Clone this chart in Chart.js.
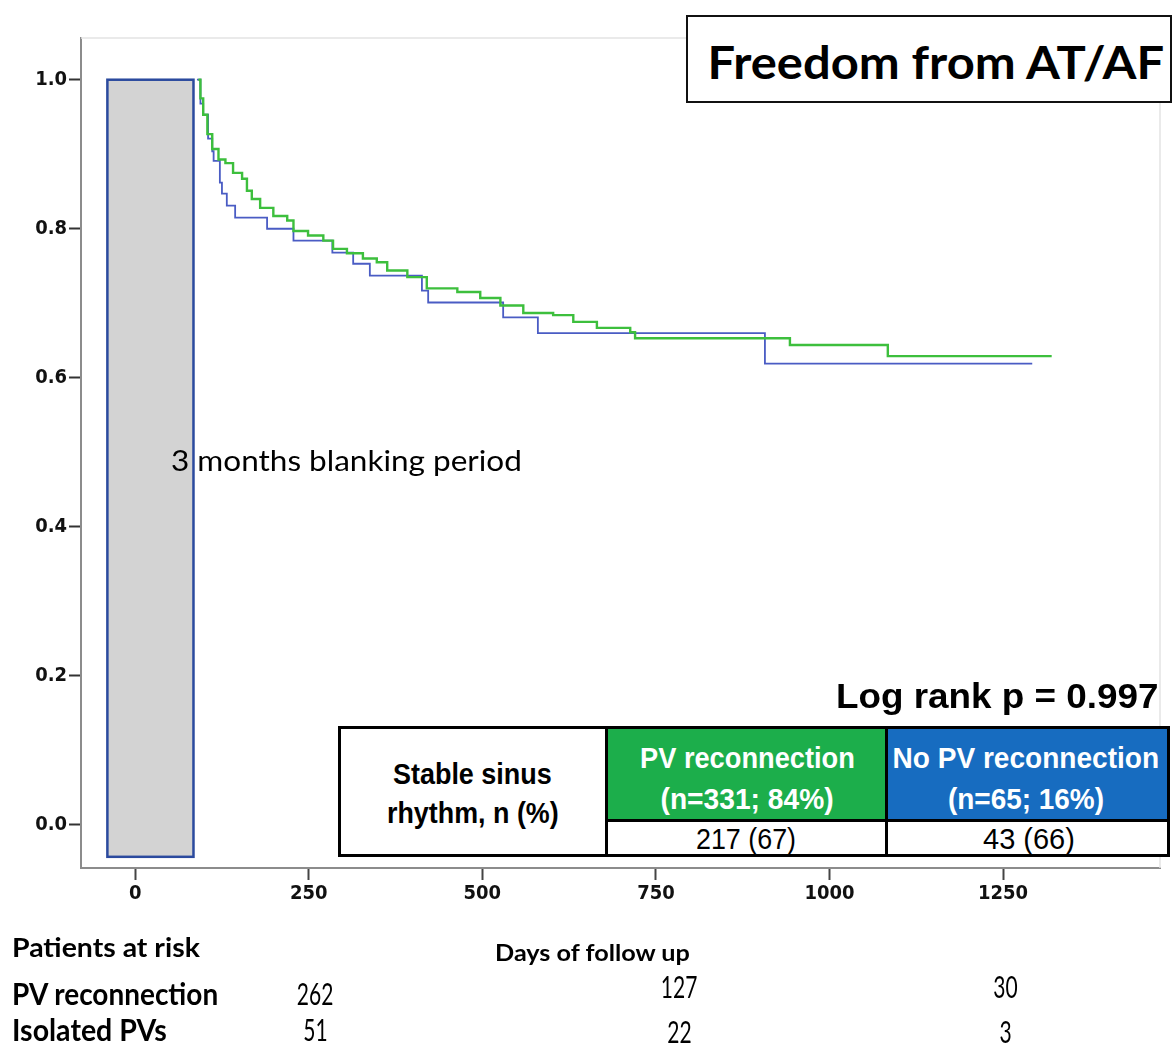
<!DOCTYPE html>
<html>
<head>
<meta charset="utf-8">
<script src="https://cdn.jsdelivr.net/npm/chart.js@4.4.1/dist/chart.umd.min.js"></script>
<style>
  html, body { margin: 0; padding: 0; background: #fff; }
  #wrap { position: relative; width: 1176px; height: 1043px; overflow: hidden; }
  #km { position: absolute; left: 0; top: 0; }
  #notes { position: absolute; left: 0; top: 0; width: 1176px; height: 1043px; }
  .lbl { position: absolute; white-space: nowrap; line-height: 1; }
  .box { position: absolute; box-sizing: border-box; }
</style>
</head>
<body>
<div id="wrap">
  <canvas id="km" width="1176" height="1043"></canvas>
  <div id="notes"></div>
</div>
<script>
// Kaplan-Meier steps: day of each drop and the survival after it
const pvDays = [91, 94, 98, 104, 111, 120, 130, 141, 154, 161, 168, 180, 199, 219, 228, 249, 271, 285, 305, 328, 348, 363, 392, 420, 464, 497, 526, 559, 602, 631, 665, 713, 720, 943, 1084, 1320];
const pvSurv = [1.0, 0.975, 0.953, 0.927, 0.907, 0.893, 0.888, 0.875, 0.867, 0.851, 0.84, 0.828, 0.817, 0.811, 0.797, 0.791, 0.784, 0.773, 0.767, 0.76, 0.755, 0.744, 0.735, 0.72, 0.715, 0.707, 0.697, 0.687, 0.684, 0.675, 0.667, 0.661, 0.653, 0.644, 0.629, 0.629];

const isoDays = [89, 94, 98, 105, 111, 113, 122, 125, 132, 144, 190, 228, 284, 314, 338, 413, 422, 530, 580, 907, 1292];
const isoSurv = [1.0, 0.968, 0.953, 0.921, 0.904, 0.891, 0.862, 0.847, 0.831, 0.815, 0.8, 0.784, 0.768, 0.753, 0.737, 0.717, 0.701, 0.681, 0.66, 0.619, 0.619];

// blanking period box (days / survival units, as drawn in the figure)
const blankDays = [-40, 84];
const blankSurv = [-0.043, 1.0];

const xTicks = [0, 250, 500, 750, 1000, 1250];
const yTicks = [0, 0.2, 0.4, 0.6, 0.8, 1.0];

const groups = ["PV reconnection", "No PV reconnection"];
const groupN = ["(n=331; 84%)", "(n=65; 16%)"];
const stableSR = ["217 (67)", "43 (66)"];

const atRiskRows = ["PV reconnection", "Isolated PVs"];
const atRiskPV = [262, 127, 30];
const atRiskIso = [51, 22, 3];

const GREEN = "#3dbf3d";
const BLUE = "#4a5cc4";
const tickFont = { family: "'DejaVu Sans Condensed', 'DejaVu Sans'", size: 20, weight: "bold" };

const toPoints = (days, surv) => days.map((d, i) => ({ x: d, y: surv[i] }));

// grey blanking rectangle + faint top/right frame lines
const blankingBox = {
  id: "blankingBox",
  beforeDatasetsDraw(chart) {
    const { ctx, chartArea, scales } = chart;
    ctx.save();
    ctx.strokeStyle = "#e4e4e4";
    ctx.lineWidth = 1.5;
    ctx.beginPath();
    ctx.moveTo(chartArea.left, chartArea.top);
    ctx.lineTo(chartArea.right, chartArea.top);
    ctx.lineTo(chartArea.right, chartArea.bottom);
    ctx.stroke();

    const l = scales.x.getPixelForValue(blankDays[0]);
    const r = scales.x.getPixelForValue(blankDays[1]);
    const t = scales.y.getPixelForValue(blankSurv[1]);
    const b = scales.y.getPixelForValue(blankSurv[0]);
    ctx.fillStyle = "#d3d3d3";
    ctx.fillRect(l, t, r - l, b - t);
    ctx.strokeStyle = "#2b4a9e";
    ctx.lineWidth = 2.5;
    ctx.strokeRect(l, t, r - l, b - t);
    ctx.restore();
  },
};

new Chart(document.getElementById("km"), {
  type: "line",
  data: {
    datasets: [
      {
        label: groups[0],
        data: toPoints(pvDays, pvSurv),
        borderColor: GREEN,
        borderWidth: 2.4,
        stepped: true,
        pointRadius: 0,
        fill: false,
      },
      {
        label: groups[1],
        data: toPoints(isoDays, isoSurv),
        borderColor: BLUE,
        borderWidth: 1.8,
        stepped: true,
        pointRadius: 0,
        fill: false,
      },
    ],
  },
  options: {
    responsive: false,
    animation: false,
    layout: { padding: { left: 0, top: 38, right: 16, bottom: 0 } },
    plugins: { legend: { display: false }, tooltip: { enabled: false } },
    scales: {
      x: {
        type: "linear",
        min: -78,
        max: 1476,
        afterFit(s) { s.height = 175; },
        afterBuildTicks(s) { s.ticks = xTicks.map((v) => ({ value: v })); },
        grid: { drawOnChartArea: false, tickLength: 12, tickColor: "#444", tickWidth: 2 },
        border: { color: "#8c8c8c", width: 2 },
        ticks: { font: tickFont, color: "#111", padding: 2, maxRotation: 0, callback: (v) => String(v) },
      },
      y: {
        min: -0.058,
        max: 1.056,
        afterFit(s) { s.width = 81; },
        afterBuildTicks(s) { s.ticks = yTicks.map((v) => ({ value: v })); },
        grid: { drawOnChartArea: false, tickLength: 12, tickColor: "#333", tickWidth: 2 },
        border: { color: "#8c8c8c", width: 2 },
        ticks: { font: { ...tickFont, size: 20 }, color: "#111", padding: 2, callback: (v) => v.toFixed(1) },
      },
    },
  },
  plugins: [blankingBox],
});

// ---- text and table drawn as html over the canvas ----
const notes = document.getElementById("notes");
const LATO = "Lato, 'Open Sans', sans-serif";
const ARIAL = "'Liberation Sans', Arial, sans-serif";

function box(l, t, w, h, css) {
  const el = document.createElement("div");
  el.className = "box";
  Object.assign(el.style, { left: l + "px", top: t + "px", width: w + "px", height: h + "px" }, css);
  notes.appendChild(el);
  return el;
}

// place a text by its baseline; w = width it takes in the figure (squeezed to fit)
function label(text, o) {
  const el = document.createElement("div");
  el.className = "lbl";
  el.textContent = text;
  el.style.font = `${o.weight || 400} ${o.size}px ${o.font}`;
  el.style.color = o.color || "#000";
  notes.appendChild(el);
  const w = el.offsetWidth;
  const k = o.w ? o.w / w : o.k || 1;
  const asc = o.font === LATO ? 0.887 : 0.8465;
  el.style.top = o.base - asc * o.size + "px";
  el.style.left = (o.cx != null ? o.cx - w / 2 : o.x) + "px";
  el.style.transformOrigin = o.cx != null ? "center" : "left";
  el.style.transform = `scaleX(${k})`;
}

// title
box(686, 15, 486, 88, { border: "2px solid #111", background: "#fff" });
label("Freedom from AT/AF", { font: LATO, weight: 700, size: 46, cx: 936, base: 75, w: 457 });

label("3 months blanking period", { font: LATO, size: 29, x: 171, base: 468, w: 351 });
label("Log rank p = 0.997", { font: ARIAL, weight: 700, size: 35, x: 836, base: 706, w: 322 });

// stable sinus rhythm table
box(338, 726, 832, 131, { border: "3px solid #000", background: "#fff" });
box(605, 726, 283, 96, { background: "#1cae4b", border: "3px solid #000" });
box(885, 726, 285, 96, { background: "#176cc0", border: "3px solid #000" });
box(605, 819, 283, 38, { border: "3px solid #000" });
box(885, 819, 285, 38, { border: "3px solid #000" });

label("Stable sinus", { font: ARIAL, weight: 700, size: 30, cx: 472, base: 782, w: 159 });
label("rhythm, n (%)", { font: ARIAL, weight: 700, size: 30, cx: 473, base: 821, w: 172 });
const colX = [747, 1026];
const headW = [215, 267];
const nW = [173, 156];
const valW = [100, 92];
groups.forEach((g, i) => {
  label(g, { font: ARIAL, weight: 700, size: 29, cx: colX[i], base: 767, w: headW[i], color: "#fff" });
  label(groupN[i], { font: ARIAL, weight: 700, size: 29, cx: colX[i], base: 808, w: nW[i], color: "#fff" });
  label(stableSR[i], { font: ARIAL, size: 29, cx: colX[i] + (i ? 3 : -1), base: 848, w: valW[i] });
});

// patients at risk
label("Patients at risk", { font: LATO, weight: 700, size: 26, x: 12, base: 954, w: 188 });
label("Days of follow up", { font: LATO, weight: 700, size: 22, x: 495, base: 959, w: 195 });
label(atRiskRows[0], { font: LATO, weight: 700, size: 30, x: 12, base: 1002, w: 206 });
label(atRiskRows[1], { font: LATO, weight: 700, size: 30, x: 12, base: 1038, w: 155 });
const riskX = [315, 679, 1005];
const riskBase = [[1002, 995, 995], [1038, 1040, 1040]];
[atRiskPV, atRiskIso].forEach((row, r) => {
  row.forEach((v, i) => {
    label(String(v), { font: LATO, size: 30, cx: riskX[i], base: riskBase[r][i], k: 0.7 });
  });
});
</script>
</body>
</html>
